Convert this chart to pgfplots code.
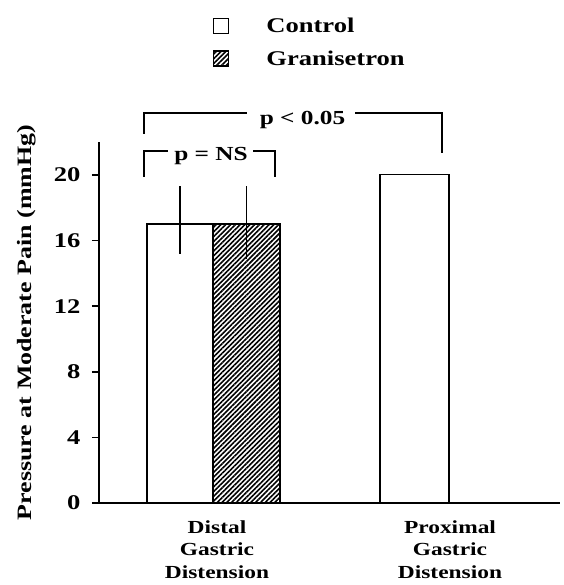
\documentclass[border=0pt]{standalone}
\usepackage{fontspec}
\setmainfont{Liberation Serif}[FakeStretch=1.27]
\usepackage{pgfplots}
\pgfplotsset{compat=1.18}
\usetikzlibrary{patterns.meta}

\begin{document}
\begin{tikzpicture}
\path[use as bounding box] (-99bp,-82bp) rectangle (465bp,503bp);
\begin{axis}[
  at={(0bp,0bp)}, anchor=south west,
  scale only axis, width=461bp, height=361bp,
  xmin=99, xmax=560, ymin=0, ymax=22,
  axis lines=left,
  axis line style={line width=1.6bp, -},
  clip=false,
  ytick={0,4,8,12,16,20},
  xtick={217,450},
  xticklabels={{Distal\\Gastric\\Distension},{Proximal\\Gastric\\Distension}},
  x tick label style={font=\fontsize{18.5}{22.5}\selectfont\bfseries, align=center, yshift=-7bp},
  y tick label style={font=\fontsize{21}{24}\selectfont\bfseries, xshift=-8bp},
  /pgf/number format/assume math mode=true,
  ytick style={line width=1.6bp, black},
  major tick length=7bp,
  xtick style={draw=none},
  tick align=outside,
  ylabel={Pressure at Moderate Pain (mmHg)},
  ylabel style={font=\fontsize{20.5}{24}\selectfont\bfseries, yshift=11bp},
  legend image code/.code={\draw[#1] (0bp,-7.5bp) rectangle (15bp,7.5bp);},
  legend style={draw=none, fill=none, inner sep=0pt,
    at={(axis description cs:0.2473,1.3435)}, anchor=north west,
    row sep=16bp, column sep=37bp,
    nodes={inner sep=0pt},
    font=\fontsize{21}{24}\selectfont\bfseries},
  legend cell align=left,
]
\addlegendimage{fill=white, draw=black, line width=1.2bp}
\addlegendentry{Control}
\addlegendimage{pattern={Lines[angle=45,distance=3.4bp,line width=1.6bp]}, draw=black, line width=1.2bp}
\addlegendentry{Granisetron}

% Control, distal
\addplot[forget plot, ybar, bar width=66, bar shift=0, fill=white, draw=black, line width=1.2bp,
  error bars/.cd, y dir=both, y explicit, error mark=none,
  error bar style={line width=1.4bp, black}]
  coordinates {(180,17) +- (0,2.3) -= (0,1.8)};
% Granisetron, distal
\addplot[forget plot, ybar, bar width=67, bar shift=0,
  pattern={Lines[angle=45,distance=3.4bp,line width=1.6bp]}, draw=black, line width=1.2bp,
  error bars/.cd, y dir=both, y explicit, error mark=none,
  error bar style={line width=1.4bp, black}]
  coordinates {(246.5,17) +- (0,2.3) -= (0,2.1)};
% Control, proximal
\addplot[forget plot, ybar, bar width=69, bar shift=0, fill=white, draw=black, line width=1.2bp]
  coordinates {(414.5,20)};

% significance brackets
\draw[line width=1.3bp] (axis cs:144,19.87) |- (axis cs:168,21.45);
\draw[line width=1.3bp] (axis cs:253,21.45) -| (axis cs:275,19.87);
\node[anchor=base, font=\fontsize{20}{24}\selectfont\bfseries, inner sep=0pt] at (axis cs:211,20.90) {p = NS};
\draw[line width=1.3bp] (axis cs:144,22.49) |- (axis cs:247,23.77);
\draw[line width=1.3bp] (axis cs:355,23.77) -| (axis cs:442,21.33);
\node[anchor=base, font=\fontsize{20}{24}\selectfont\bfseries, inner sep=0pt] at (axis cs:302.5,23.04) {p < 0.05};
\end{axis}
\end{tikzpicture}
\end{document}
